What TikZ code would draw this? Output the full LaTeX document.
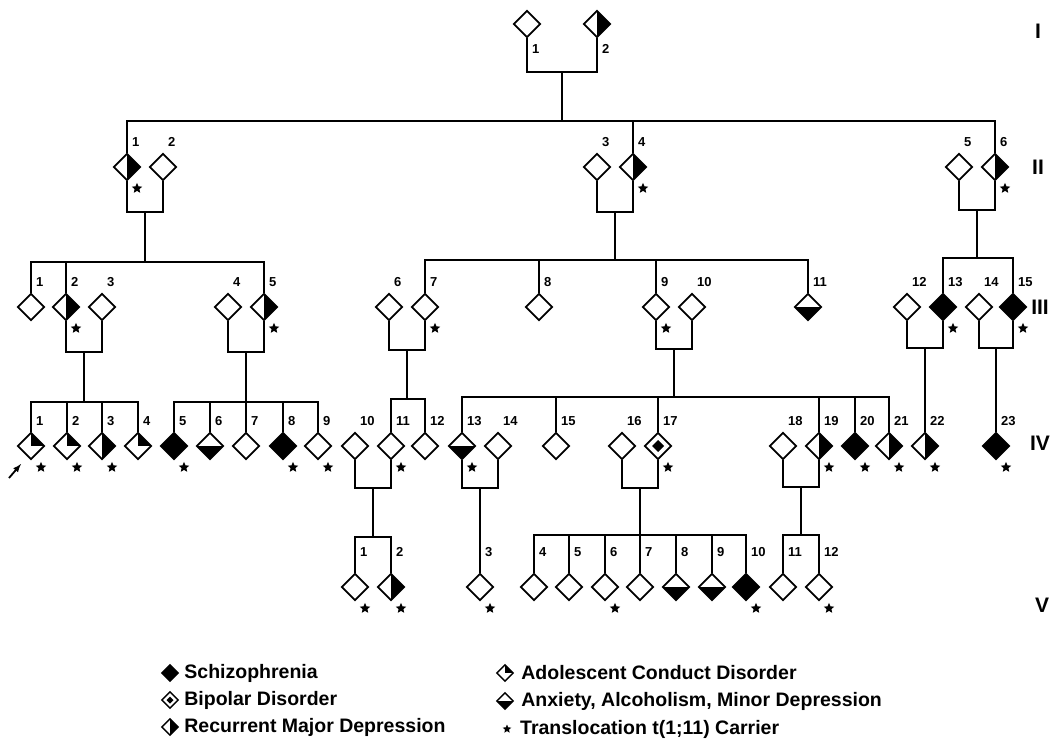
\documentclass[tikz,border=0pt]{standalone}
\usepackage{fontspec}
\setmainfont{Liberation Sans}
\usetikzlibrary{shapes.geometric,positioning}

\tikzset{
	ind/.style={diamond, draw, line width=1.7pt, fill=white, minimum width=27pt, minimum height=27pt, inner sep=0pt},
	scz/.style={fill=black},
	rmd/.style={path picture={\fill[black] (path picture bounding box.north) rectangle (path picture bounding box.south east);}},
	acd/.style={path picture={\fill[black] (path picture bounding box.center) rectangle (path picture bounding box.north east);}},
	anx/.style={path picture={\fill[black] (path picture bounding box.west) rectangle (path picture bounding box.south east);}},
	bip/.style={path picture={\fill[black] ([yshift=#1]path picture bounding box.center) -- ++(#1,-#1) -- ++(-#1,-#1) -- ++(-#1,#1) -- cycle;}},
	bip/.default=6pt,
	num/.style={font=\fontsize{13}{13}\selectfont\bfseries, inner sep=0pt},
	lab/.style={label={[num, anchor=west, xshift=5pt, yshift=11pt]north:#1}},
	labv/.style={label={[num, anchor=west, xshift=5pt, yshift=21pt]north:#1}},
	labi/.style={label={[num, anchor=west, xshift=5pt, yshift=-11pt]south:#1}},
	carrier/.style={star, star points=5, star point ratio=2.2, fill=black, inner sep=0pt, minimum size=11pt},
	car/.style={label={[carrier, anchor=center, xshift=10pt, yshift=-7pt]south:{}}},
	link/.style={line width=1.8pt},
	gen/.style={font=\fontsize{21}{21}\selectfont\bfseries, inner sep=0pt},
	leg/.style={ind, minimum width=17pt, minimum height=17pt, line width=1.4pt},
	legtxt/.style={font=\fontsize{19.5}{20}\selectfont\bfseries, inner sep=0pt}
}

\begin{document}
\begin{tikzpicture}[x=1pt, y=-1pt]
	\useasboundingbox (0,0) rectangle (1052,746);

	% Generation I
	\node[ind, labi=1] (I1) at (527,24) {};
	\node[ind, rmd, labi=2] (I2) at (597,24) {};

	% Generation II
	\node[ind, rmd, car, lab=1] (II1) at (127,167) {};
	\node[ind, lab=2] (II2) at (163,167) {};
	\node[ind, lab=3] (II3) at (597,167) {};
	\node[ind, rmd, car, lab=4] (II4) at (633,167) {};
	\node[ind, lab=5] (II5) at (959,167) {};
	\node[ind, rmd, car, lab=6] (II6) at (995,167) {};

	% Generation III
	\node[ind, lab=1] (III1) at (31,307) {};
	\node[ind, rmd, car, lab=2] (III2) at (66,307) {};
	\node[ind, lab=3] (III3) at (102,307) {};
	\node[ind, lab=4] (III4) at (228,307) {};
	\node[ind, rmd, car, lab=5] (III5) at (264,307) {};
	\node[ind, lab=6] (III6) at (389,307) {};
	\node[ind, car, lab=7] (III7) at (425,307) {};
	\node[ind, lab=8] (III8) at (539,307) {};
	\node[ind, car, lab=9] (III9) at (656,307) {};
	\node[ind, lab=10] (III10) at (692,307) {};
	\node[ind, anx, lab=11] (III11) at (808,307) {};
	\node[ind, lab=12] (III12) at (907,307) {};
	\node[ind, scz, car, lab=13] (III13) at (943,307) {};
	\node[ind, lab=14] (III14) at (979,307) {};
	\node[ind, scz, car, lab=15] (III15) at (1013,307) {};

	% Generation IV
	\node[ind, acd, car, lab=1] (IV1) at (31,446) {};
	\node[ind, acd, car, lab=2] (IV2) at (67,446) {};
	\node[ind, rmd, car, lab=3] (IV3) at (102,446) {};
	\node[ind, acd, lab=4] (IV4) at (138,446) {};
	\node[ind, scz, car, lab=5] (IV5) at (174,446) {};
	\node[ind, anx, lab=6] (IV6) at (210,446) {};
	\node[ind, lab=7] (IV7) at (246,446) {};
	\node[ind, scz, car, lab=8] (IV8) at (283,446) {};
	\node[ind, car, lab=9] (IV9) at (318,446) {};
	\node[ind, lab=10] (IV10) at (355,446) {};
	\node[ind, car, lab=11] (IV11) at (391,446) {};
	\node[ind, lab=12] (IV12) at (425,446) {};
	\node[ind, anx, car, lab=13] (IV13) at (462,446) {};
	\node[ind, lab=14] (IV14) at (498,446) {};
	\node[ind, lab=15] (IV15) at (556,446) {};
	\node[ind, lab=16] (IV16) at (622,446) {};
	\node[ind, bip, car, lab=17] (IV17) at (658,446) {};
	\node[ind, lab=18] (IV18) at (783,446) {};
	\node[ind, rmd, car, lab=19] (IV19) at (819,446) {};
	\node[ind, scz, car, lab=20] (IV20) at (855,446) {};
	\node[ind, rmd, car, lab=21] (IV21) at (889,446) {};
	\node[ind, rmd, car, lab=22] (IV22) at (925,446) {};
	\node[ind, scz, car, lab=23] (IV23) at (996,446) {};

	% Generation V
	\node[ind, car, labv=1] (V1) at (355,587) {};
	\node[ind, rmd, car, labv=2] (V2) at (391,587) {};
	\node[ind, car, labv=3] (V3) at (480,587) {};
	\node[ind, labv=4] (V4) at (534,587) {};
	\node[ind, labv=5] (V5) at (569,587) {};
	\node[ind, car, labv=6] (V6) at (605,587) {};
	\node[ind, labv=7] (V7) at (640,587) {};
	\node[ind, anx, labv=8] (V8) at (676,587) {};
	\node[ind, anx, labv=9] (V9) at (712,587) {};
	\node[ind, scz, car, labv=10] (V10) at (746,587) {};
	\node[ind, labv=11] (V11) at (783,587) {};
	\node[ind, car, labv=12] (V12) at (819,587) {};

	% couple and sibship points
	\coordinate (cI) at (562,72);     \coordinate (sII) at (562,121);
	\coordinate (cIIa) at (145,212);  \coordinate (sIIIa) at (145,262);
	\coordinate (cIIb) at (615,212);  \coordinate (sIIIb) at (615,260);
	\coordinate (cIIc) at (977,210);  \coordinate (sIIIc) at (977,258);
	\coordinate (cIIIa) at (84,352);  \coordinate (sIVa) at (84,402);
	\coordinate (cIIIb) at (246,352); \coordinate (sIVb) at (246,402);
	\coordinate (cIIIc) at (407,350); \coordinate (sIVc) at (407,399);
	\coordinate (cIIId) at (674,349); \coordinate (sIVd) at (674,397);
	\coordinate (cIIIe) at (925,348);
	\coordinate (cIIIf) at (996,348);
	\coordinate (cIVa) at (373,488);  \coordinate (sVa) at (373,537);
	\coordinate (cIVb) at (480,488);
	\coordinate (cIVc) at (640,488);  \coordinate (sVc) at (640,535);
	\coordinate (cIVd) at (801,487);  \coordinate (sVd) at (801,535);

	% I to II
	\draw[link] (I1.south) |- (cI) -| (I2.south);
	\draw[link] (cI) -- (sII);
	\draw[link] (II1.north) |- (sII) -| (II6.north);
	\draw[link] (II4.north) -- (II4.north |- sII);

	% II to III
	\draw[link] (II1.south) |- (cIIa) -| (II2.south);
	\draw[link] (cIIa) -- (sIIIa);
	\draw[link] (III1.north) |- (sIIIa) -| (III5.north);
	\draw[link] (III2.north) -- (III2.north |- sIIIa);
	\draw[link] (II3.south) |- (cIIb) -| (II4.south);
	\draw[link] (cIIb) -- (sIIIb);
	\draw[link] (III7.north) |- (sIIIb) -| (III11.north);
	\draw[link] (III8.north) -- (III8.north |- sIIIb);
	\draw[link] (III9.north) -- (III9.north |- sIIIb);
	\draw[link] (II5.south) |- (cIIc) -| (II6.south);
	\draw[link] (cIIc) -- (sIIIc);
	\draw[link] (III13.north) |- (sIIIc) -| (III15.north);

	% III to IV
	\draw[link] (III2.south) |- (cIIIa) -| (III3.south);
	\draw[link] (cIIIa) -- (sIVa);
	\draw[link] (IV1.north) |- (sIVa) -| (IV4.north);
	\draw[link] (IV2.north) -- (IV2.north |- sIVa);
	\draw[link] (IV3.north) -- (IV3.north |- sIVa);
	\draw[link] (III4.south) |- (cIIIb) -| (III5.south);
	\draw[link] (cIIIb) -- (sIVb);
	\draw[link] (IV5.north) |- (sIVb) -| (IV9.north);
	\draw[link] (IV6.north) -- (IV6.north |- sIVb);
	\draw[link] (IV7.north) -- (IV7.north |- sIVb);
	\draw[link] (IV8.north) -- (IV8.north |- sIVb);
	\draw[link] (III6.south) |- (cIIIc) -| (III7.south);
	\draw[link] (cIIIc) -- (sIVc);
	\draw[link] (IV11.north) |- (sIVc) -| (IV12.north);
	\draw[link] (III9.south) |- (cIIId) -| (III10.south);
	\draw[link] (cIIId) -- (sIVd);
	\draw[link] (IV13.north) |- (sIVd) -| (IV21.north);
	\foreach \k in {15,17,19,20}
		\draw[link] (IV\k.north) -- (IV\k.north |- sIVd);
	\draw[link] (III12.south) |- (cIIIe) -| (III13.south);
	\draw[link] (cIIIe) -- (IV22.north);
	\draw[link] (III14.south) |- (cIIIf) -| (III15.south);
	\draw[link] (cIIIf) -- (IV23.north);

	% IV to V
	\draw[link] (IV10.south) |- (cIVa) -| (IV11.south);
	\draw[link] (cIVa) -- (sVa);
	\draw[link] (V1.north) |- (sVa) -| (V2.north);
	\draw[link] (IV13.south) |- (cIVb) -| (IV14.south);
	\draw[link] (cIVb) -- (V3.north);
	\draw[link] (IV16.south) |- (cIVc) -| (IV17.south);
	\draw[link] (cIVc) -- (sVc);
	\draw[link] (V4.north) |- (sVc) -| (V10.north);
	\foreach \k in {5,...,9}
		\draw[link] (V\k.north) -- (V\k.north |- sVc);
	\draw[link] (IV18.south) |- (cIVd) -| (IV19.south);
	\draw[link] (cIVd) -- (sVd);
	\draw[link] (V11.north) |- (sVd) -| (V12.north);

	% proband
	\coordinate (pa) at (9,478);
	\coordinate (pb) at (21,464);
	\draw[link, -latex] (pa) -- (pb);

	% generation numerals
	\node[gen] (gI) at (1038,31) {I};
	\node[gen] (gII) at (1038,167) {II};
	\node[gen] (gIII) at (1040,307) {III};
	\node[gen] (gIV) at (1040,443) {IV};
	\node[gen] (gV) at (1042,605) {V};

	% legend
	\node[leg, scz] (k1) at (170,673) {};
	\node[legtxt, right=5pt of k1] {Schizophrenia};
	\node[leg, bip=3.5pt] (k2) at (170,700) {};
	\node[legtxt, right=5pt of k2] {Bipolar Disorder};
	\node[leg, rmd] (k3) at (170,727) {};
	\node[legtxt, right=5pt of k3] {Recurrent Major Depression};
	\node[leg, acd] (k4) at (505,673) {};
	\node[legtxt, right=7pt of k4] {Adolescent Conduct Disorder};
	\node[leg, anx] (k5) at (505,701) {};
	\node[legtxt, right=7pt of k5] {Anxiety, Alcoholism, Minor Depression};
	\node[carrier, minimum size=9pt] (k6) at (507,729) {};
	\node[legtxt, right=10pt of k6] {Translocation t(1;11) Carrier};
\end{tikzpicture}
\end{document}
